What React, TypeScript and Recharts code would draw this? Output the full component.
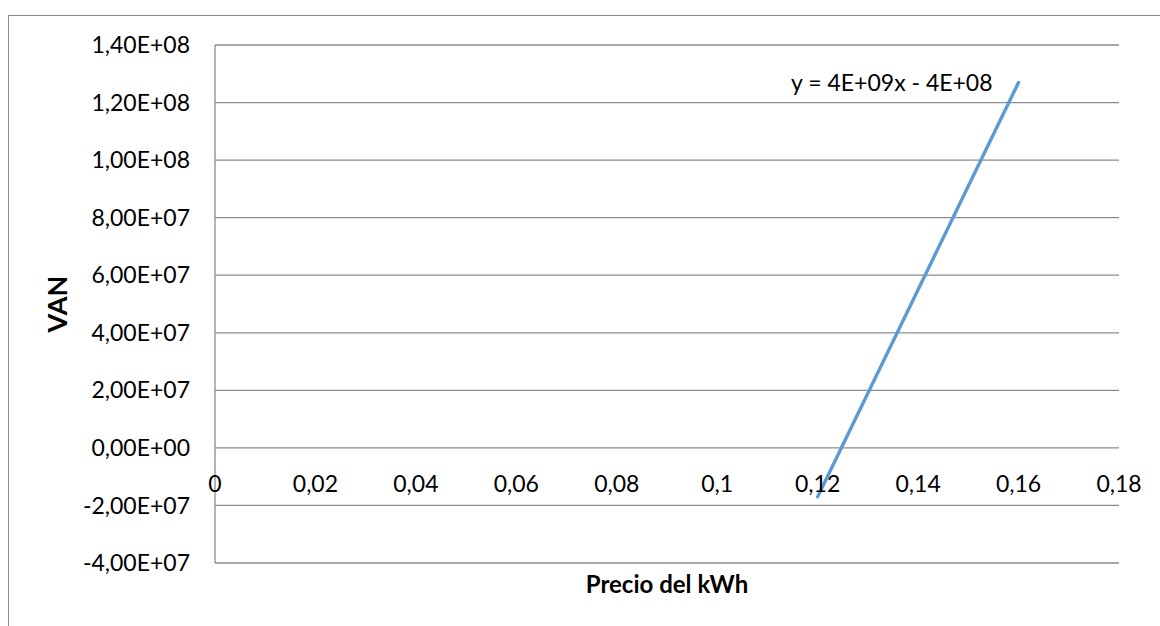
import { LineChart, Line, XAxis, YAxis, CartesianGrid } from 'recharts'

// Precio del kWh vs VAN, two end points of the fitted line
const precio = [0.12, 0.16]
const van = [-1.7e7, 1.27e8]

const xTicks = [0, 0.02, 0.04, 0.06, 0.08, 0.1, 0.12, 0.14, 0.16, 0.18]
const yTicks = [-4e7, -2e7, 0, 2e7, 4e7, 6e7, 8e7, 1e8, 1.2e8, 1.4e8]
const trendText = 'y = 4E+09x - 4E+08'

const WIDTH = 1160
const HEIGHT = 626
const MARGIN = { top: 45, right: 41, bottom: 3, left: 0 }
const X_AXIS_HEIGHT = 60
const FONT = 'Lato, "Open Sans", sans-serif'
const GRID = '#8c8c8c'

const yMin = yTicks[0]
const yMax = yTicks[yTicks.length - 1]
const plotHeight = HEIGHT - MARGIN.top - MARGIN.bottom - X_AXIS_HEIGHT
// distance from the bottom of the plot up to the zero line (axis crosses at 0)
const zeroLift = ((0 - yMin) / (yMax - yMin)) * plotHeight

const data = precio.map((p, i) => ({ precio: p, van: van[i] }))

function formatSci(v: number) {
  if (v === 0) return '0,00E+00'
  const exp = Math.floor(Math.log10(Math.abs(v)) + 1e-9)
  const mant = (v / Math.pow(10, exp)).toFixed(2).replace('.', ',')
  return `${mant}E+${String(exp).padStart(2, '0')}`
}

function XTick({ x, y, payload }: any) {
  return (
    <text
      x={x}
      y={y - zeroLift + 35}
      textAnchor="middle"
      dominantBaseline="central"
      fill="#000"
      fontSize={23}
      fontFamily={FONT}
    >
      {String(payload.value).replace('.', ',')}
    </text>
  )
}

function TrendLabel({ x, y, index }: any) {
  if (index !== data.length - 1) return null
  return (
    <text x={x - 26} y={y + 9} textAnchor="end" fill="#000" fontSize={23} fontFamily={FONT}>
      {trendText}
    </text>
  )
}

export default function App() {
  return (
    <div
      style={{
        position: 'absolute',
        left: 0,
        top: 0,
        width: WIDTH,
        height: HEIGHT,
        overflow: 'hidden',
        background: '#fff',
        fontFamily: FONT,
      }}
    >
      <div
        style={{
          position: 'absolute',
          left: 8,
          top: 15,
          width: WIDTH + 20,
          height: HEIGHT + 20,
          border: '1px solid #8c8c8c',
        }}
      />
      <div style={{ position: 'absolute', left: 0, top: 0 }}>
        <LineChart width={WIDTH} height={HEIGHT} data={data} margin={MARGIN}>
          <CartesianGrid horizontal vertical={false} stroke={GRID} strokeWidth={1.3} />
          <XAxis
            dataKey="precio"
            type="number"
            domain={[0, 0.18]}
            ticks={xTicks}
            height={X_AXIS_HEIGHT}
            axisLine={false}
            tickLine={false}
            tickSize={0}
            tickMargin={0}
            tick={<XTick />}
            interval={0}
            label={{
              value: 'Precio del kWh',
              position: 'insideTop',
              offset: 13,
              fill: '#000',
              fontSize: 24,
              fontWeight: 700,
            }}
          />
          <YAxis
            type="number"
            domain={[yMin, yMax]}
            ticks={yTicks}
            width={215}
            interval={0}
            axisLine={{ stroke: GRID, strokeWidth: 1.3 }}
            tickLine={false}
            tickSize={0}
            tickMargin={25}
            tickFormatter={formatSci}
            tick={{ fill: '#000', fontSize: 23 }}
            label={{
              value: 'VAN',
              angle: -90,
              position: 'insideLeft',
              offset: 57,
              fill: '#000',
              fontSize: 27,
              fontWeight: 700,
              style: { textAnchor: 'middle' },
            }}
          />
          <Line
            dataKey="van"
            type="linear"
            stroke="#5b9bd5"
            strokeWidth={3.4}
            strokeLinecap="round"
            dot={false}
            activeDot={false}
            label={<TrendLabel />}
            isAnimationActive={false}
          />
        </LineChart>
      </div>
    </div>
  )
}
